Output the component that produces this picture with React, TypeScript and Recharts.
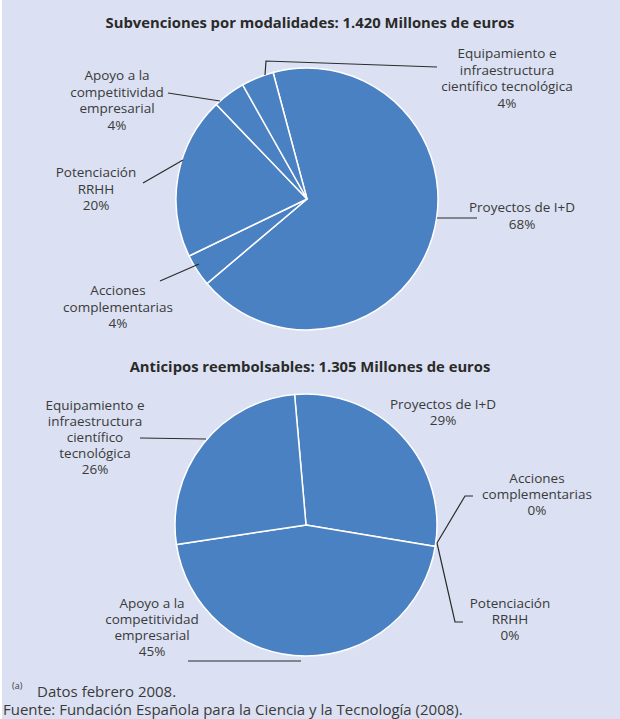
import React from 'react';
import { PieChart, Pie, Cell } from 'recharts';

// ---- data ----
const CATEGORIES = [
  'Proyectos de I+D',
  'Acciones complementarias',
  'Potenciación RRHH',
  'Apoyo a la competitividad empresarial',
  'Equipamiento e infraestructura científico tecnológica',
];
const SUBVENCIONES_VALUES = [68, 4, 20, 4, 4];
const ANTICIPOS_VALUES = [29, 0, 0, 45, 26];

const SUBVENCIONES_LABEL_LINES = [
  ['Proyectos de I+D'],
  ['Acciones', 'complementarias'],
  ['Potenciación', 'RRHH'],
  ['Apoyo a la', 'competitividad', 'empresarial'],
  ['Equipamiento e', 'infraestructura', 'científico tecnológica'],
];
const ANTICIPOS_LABEL_LINES = [
  ['Proyectos de I+D'],
  ['Acciones', 'complementarias'],
  ['Potenciación', 'RRHH'],
  ['Apoyo a la', 'competitividad', 'empresarial'],
  ['Equipamiento e', 'infraestructura', 'científico', 'tecnológica'],
];

const TITLE_TOP = 'Subvenciones por modalidades: 1.420 Millones de euros';
const TITLE_BOTTOM = 'Anticipos reembolsables: 1.305 Millones de euros';
const NOTE = 'Datos febrero 2008.';
const SOURCE = 'Fuente: Fundación Española para la Ciencia y la Tecnología (2008).';

// ---- layout (relative to pie centre) ----
type Lay = { tx: number; ty: number; line: number[][] };
const TOP_LAYOUT: Lay[] = [
  { tx: 215, ty: 13, line: [[130, 19], [170, 19]] },
  { tx: -189, ty: 96, line: [[-108, 65], [-147, 82]] },
  { tx: -211, ty: -22, line: [[-124, -39], [-164, -16]] },
  { tx: -190, ty: -119, line: [[-87, -98], [-139, -106]] },
  { tx: 200, ty: -141, line: [[-42, -124], [-41, -138], [130, -132]] },
];
const BOTTOM_LAYOUT: Lay[] = [
  { tx: 137, ty: -116, line: [] },
  { tx: 231, ty: -42, line: [[131, 18], [159, -29], [167, -29]] },
  { tx: 204, ty: 83, line: [[131, 18], [149, 97], [157, 97]] },
  { tx: -154, ty: 83, line: [[-5, 136], [-118, 136]] },
  { tx: -211, ty: -115, line: [[-100, -86], [-166, -87]] },
];

const FONT = '"Open Sans", Lato, sans-serif';
const TEXT = '#3a3a3a';
const PIE_FILL = '#4a81c3';
const BG = '#dbe1f2';

const topData = CATEGORIES.map((name, i) => ({ name, value: SUBVENCIONES_VALUES[i] }));
const bottomData = CATEGORIES.map((name, i) => ({ name, value: ANTICIPOS_VALUES[i] }));

function makeLabel(layout: Lay[], lines: string[][], values: number[], spacing: number) {
  return (props: any) => {
    const { cx, cy, index } = props;
    const l = layout[index];
    const all = [...lines[index], `${values[index]}%`];
    return (
      <g key={`lbl-${index}`}>
        {l.line.length > 0 && (
          <polyline
            points={l.line.map(([x, y]) => `${cx + x},${cy + y}`).join(' ')}
            fill="none"
            stroke="#2b2b2b"
            strokeWidth={1.2}
          />
        )}
        <text x={cx + l.tx} y={cy + l.ty} textAnchor="middle" fontFamily={FONT} fontSize={13.5} fill={TEXT}>
          {all.map((t, k) => (
            <tspan key={k} x={cx + l.tx} dy={k === 0 ? 0 : spacing}>
              {t}
            </tspan>
          ))}
        </text>
      </g>
    );
  };
}

export default function App() {
  return (
    <div style={{ position: 'absolute', left: 0, top: 0, width: 620, height: 719, background: '#ffffff', overflow: 'hidden' }}>
      <div style={{ position: 'absolute', left: 2, top: 0, width: 618, height: 719, background: BG }} />
      <div style={{ position: 'absolute', left: 0, top: 0 }}>
        <PieChart width={620} height={719} margin={{ top: 0, right: 0, bottom: 0, left: 0 }}>
          <Pie
            data={topData}
            dataKey="value"
            cx={307}
            cy={199}
            outerRadius={131}
            startAngle={105}
            endAngle={-255}
            stroke="#ffffff"
            strokeWidth={1.5}
            isAnimationActive={false}
            labelLine={false}
            label={makeLabel(TOP_LAYOUT, SUBVENCIONES_LABEL_LINES, SUBVENCIONES_VALUES, 16.5)}
          >
            {topData.map((d, i) => (
              <Cell key={i} fill={PIE_FILL} />
            ))}
          </Pie>
          <Pie
            data={bottomData}
            dataKey="value"
            cx={306}
            cy={525}
            outerRadius={131}
            startAngle={95}
            endAngle={-265}
            stroke="#ffffff"
            strokeWidth={1.5}
            isAnimationActive={false}
            labelLine={false}
            label={makeLabel(BOTTOM_LAYOUT, ANTICIPOS_LABEL_LINES, ANTICIPOS_VALUES, 16)}
          >
            {bottomData.map((d, i) => (
              <Cell key={i} fill={PIE_FILL} />
            ))}
          </Pie>
        </PieChart>
      </div>
      <svg width={620} height={719} style={{ position: 'absolute', left: 0, top: 0, pointerEvents: 'none' }}>
        <text x={310} y={28} textAnchor="middle" fontFamily={FONT} fontWeight="bold" fontSize={14.8} fill="#2a2a2a">
          {TITLE_TOP}
        </text>
        <text x={310} y={372} textAnchor="middle" fontFamily={FONT} fontWeight="bold" fontSize={14.8} fill="#2a2a2a">
          {TITLE_BOTTOM}
        </text>
        <text x={12} y={689} fontFamily={FONT} fontSize={9} fill={TEXT}>(a)</text>
        <text x={37} y={697} fontFamily={FONT} fontSize={15} fill={TEXT}>{NOTE}</text>
        <text x={3} y={715} fontFamily={FONT} fontSize={15} fill={TEXT}>{SOURCE}</text>
      </svg>
    </div>
  );
}
